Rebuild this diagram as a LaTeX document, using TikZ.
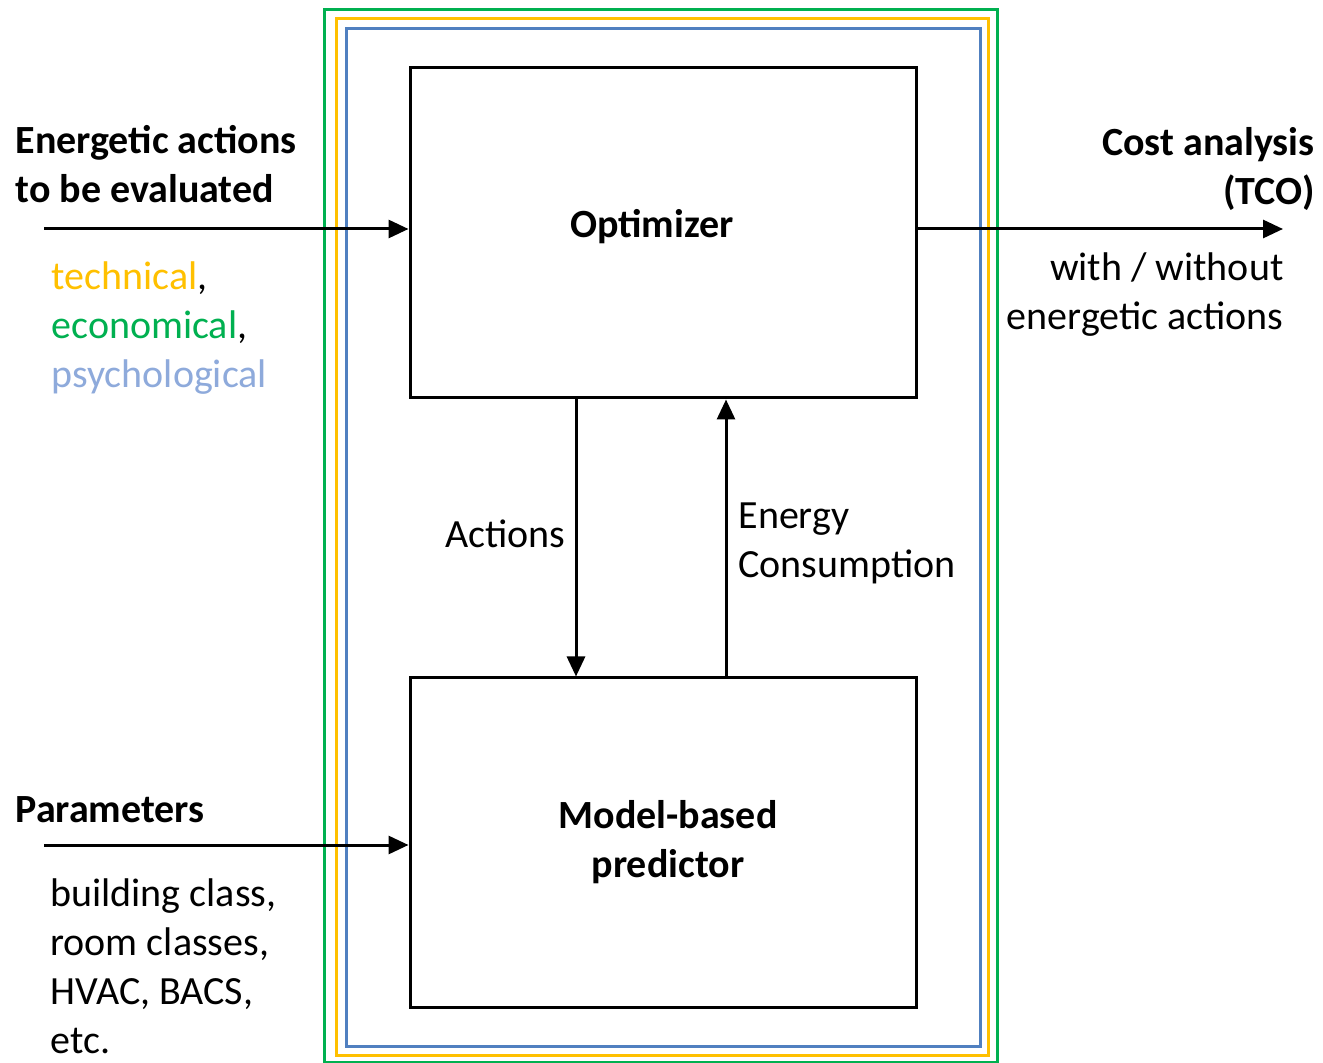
\documentclass[tikz,border=0pt]{standalone}
\usepackage{fontspec}
\setmainfont{Carlito}
\usetikzlibrary{arrows.meta}
\definecolor{framegreen}{HTML}{00B050}
\definecolor{frameyellow}{HTML}{FFC000}
\definecolor{frameblue}{HTML}{5080C0}
\definecolor{psyblue}{HTML}{8EAADB}

\begin{document}
\fontsize{20}{24.5}\selectfont
\begin{tikzpicture}[x=0.5pt,y=-0.5pt,line width=1.5pt,>={Triangle[length=10pt,width=9pt]}]
  \useasboundingbox (0,0) rectangle (1323,1063);
  % nested frames
  \draw[framegreen] (324,10) rectangle (997,1062);
  \draw[frameyellow] (336,19) rectangle (988,1055);
  \draw[frameblue] (346,29) rectangle (980,1046);
  % blocks
  \node[draw,minimum width=253pt,minimum height=165pt] (opt) at (663,233) {};
  \node[draw,minimum width=253pt,minimum height=164.5pt] (pred) at (663,842.5) {};
  \node[font=\bfseries,anchor=base] (optlabel) at (652,238) {Optimizer};
  \node[font=\bfseries,align=center,anchor=base] (predlabel) at (668,877) {Model-based\\predictor};
  % arrows
  \draw[->] ([xshift=-43.5pt]opt.south) -- ([xshift=-43.5pt]pred.north);
  \draw[->] ([xshift=31.5pt]pred.north) -- ([xshift=31.5pt]opt.south);
  \coordinate (evalin) at (44,229);
  \coordinate (tcoout) at (1283,229);
  \coordinate (parin) at (44,845);
  \draw[->] (evalin) -- (evalin -| opt.west);
  \draw[->] (tcoout -| opt.east) -- (tcoout);
  \draw[->] (parin) -- (parin -| pred.west);
  % labels (base = last line)
  \node[font=\bfseries,align=left,anchor=base west,inner sep=0pt] (evaltitle) at (14,203) {Energetic actions\\to be evaluated};
  \node[align=left,anchor=base west,inner sep=0pt] (evalkinds) at (50,388) {\textcolor{frameyellow}{technical},\\\textcolor{framegreen}{economical},\\\textcolor{psyblue}{psychological}};
  \node[anchor=base east,inner sep=0pt] (actlabel) at (567,548) {Actions};
  \node[align=left,anchor=base west,inner sep=0pt] (energylabel) at (737,578) {Energy\\Consumption};
  \node[font=\bfseries,align=right,anchor=base east,inner sep=0pt] (tcotitle) at (1316,205) {Cost analysis\\(TCO)};
  \node[align=right,anchor=base east,inner sep=0pt] (tcokinds) at (1285,330) {with / without\\energetic actions};
  \node[font=\bfseries,anchor=base west,inner sep=0pt] (partitle) at (14,822) {Parameters};
  \node[align=left,anchor=base west,inner sep=0pt] (parkinds) at (49,1053) {building class,\\room classes,\\HVAC, BACS,\\etc.};
\end{tikzpicture}
\end{document}
